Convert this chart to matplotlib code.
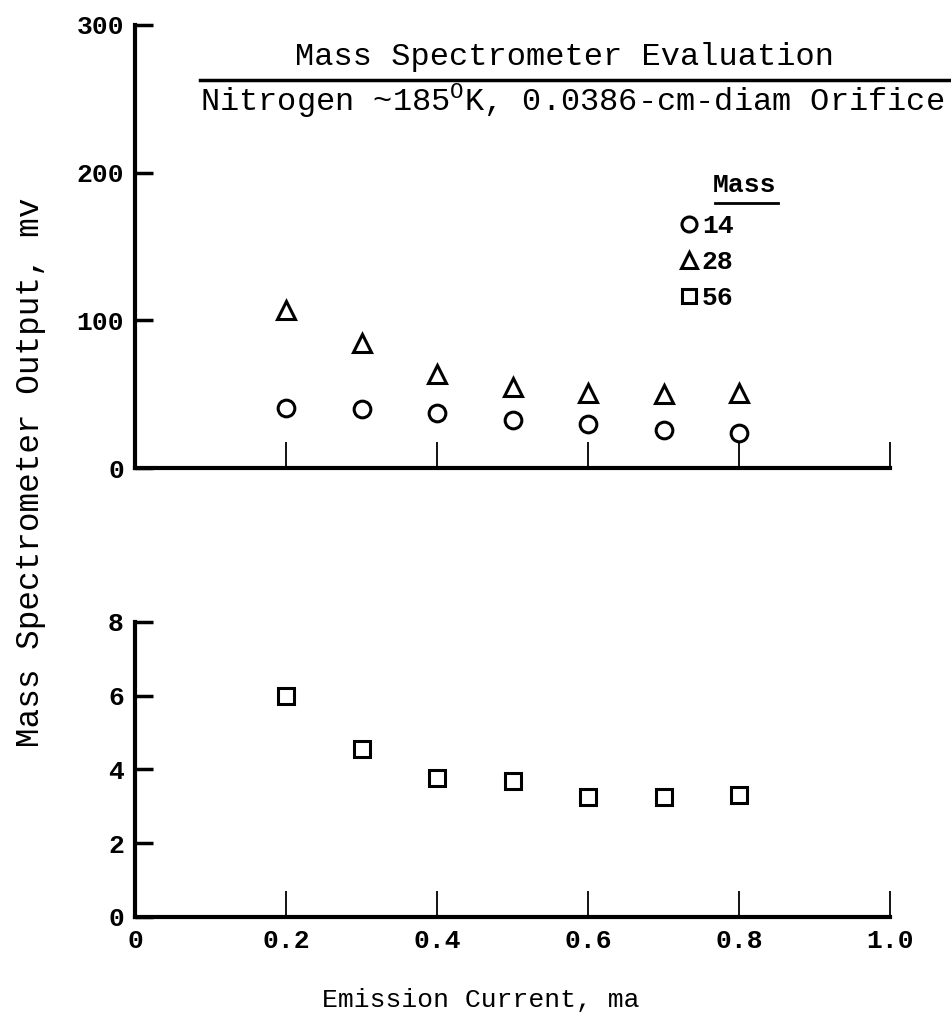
import matplotlib
matplotlib.use("Agg")
import matplotlib.pyplot as plt
from matplotlib.lines import Line2D

# emission current, ma
current = [0.2, 0.3, 0.4, 0.5, 0.6, 0.7, 0.8]
# mass spectrometer output, mv
mass14 = [40.5, 40.0, 37.0, 32.5, 30.0, 26.0, 24.0]
mass28 = [107, 84.5, 64.0, 55.0, 51.0, 50.0, 51.0]
mass56 = [6.0, 4.55, 3.77, 3.69, 3.25, 3.25, 3.31]
mass_labels = ["14", "28", "56"]

plt.rcParams["font.family"] = ["Liberation Mono", "DejaVu Sans Mono"]
plt.rcParams["mathtext.fontset"] = "custom"
plt.rcParams["mathtext.rm"] = "Liberation Mono"

fig = plt.figure(figsize=(9.51, 10.19), dpi=100)
ax1 = fig.add_axes([0.142, 0.5407, 0.794, 0.4348])
ax2 = fig.add_axes([0.142, 0.1001, 0.794, 0.2895])

mk = dict(linestyle="none", markerfacecolor="white", markeredgecolor="black",
          markeredgewidth=2.2, clip_on=False)
h14, = ax1.plot(current, mass14, marker="o", markersize=12, **mk)
h28, = ax1.plot(current, mass28, marker="^", markersize=13, **mk)
h56, = ax2.plot(current, mass56, marker="s", markersize=11, **mk)

for ax in (ax1, ax2):
    ax.set_xlim(0, 1.0)
    for s in ("top", "right"):
        ax.spines[s].set_visible(False)
    for s in ("left", "bottom"):
        ax.spines[s].set_linewidth(3)
    ax.tick_params(axis="x", direction="in", length=19, width=1.3)
    ax.tick_params(axis="y", direction="in", length=13, width=2.5, pad=8,
                   labelsize=19)

ax1.set_xticks([0.2, 0.4, 0.6, 0.8, 1.0])
ax1.set_ylim(0, 300)
ax1.set_yticks([0, 100, 200, 300])
ax1.tick_params(axis="x", labelbottom=False)
ax2.set_ylim(0, 8)
ax2.set_yticks([0, 2, 4, 6, 8])
ax2.set_xticks([0, 0.2, 0.4, 0.6, 0.8, 1.0])
ax2.set_xticklabels(["0", "0.2", "0.4", "0.6", "0.8", "1.0"])
ax2.tick_params(axis="x", labelsize=19, pad=9)
# no tick mark at x=0, only the label
ax2.xaxis.get_major_ticks()[0].tick1line.set_visible(False)
for ax in (ax1, ax2):
    for t in ax.get_yticklabels() + ax.get_xticklabels():
        t.set_fontweight("bold")

fig.text(0.594, 0.944, "Mass Spectrometer Evaluation", ha="center",
         va="center", fontsize=23)
fig.add_artist(Line2D([0.21, 1.0], [0.9215, 0.9215], color="black", lw=2.5))
fig.text(0.21, 0.901, r"Nitrogen ~185$^{\rm O}$K, 0.0386-cm-diam Orifice",
         ha="left", va="center", fontsize=23)

fig.text(0.032, 0.537, "Mass Spectrometer Output, mv", rotation=90,
         ha="center", va="center", fontsize=23.5)
fig.text(0.505, 0.019, "Emission Current, ma", ha="center", va="center",
         fontsize=19)

# legend
leg = ax1.legend([h14, h28, h56], mass_labels, frameon=False,
                 loc="upper left", bbox_to_anchor=(0.713, 0.79),
                 bbox_transform=fig.transFigure, markerscale=0.9,
                 handlelength=0.8, handletextpad=0.1, labelspacing=0.45,
                 borderpad=0, borderaxespad=0,
                 prop={"size": 19, "weight": "bold"})
fig.text(0.783, 0.8185, "Mass", ha="center", va="center", fontsize=19,
         fontweight="bold")
fig.add_artist(Line2D([0.752, 0.818], [0.8008, 0.8008], color="black", lw=2))

fig.savefig("out.png", dpi=100)
